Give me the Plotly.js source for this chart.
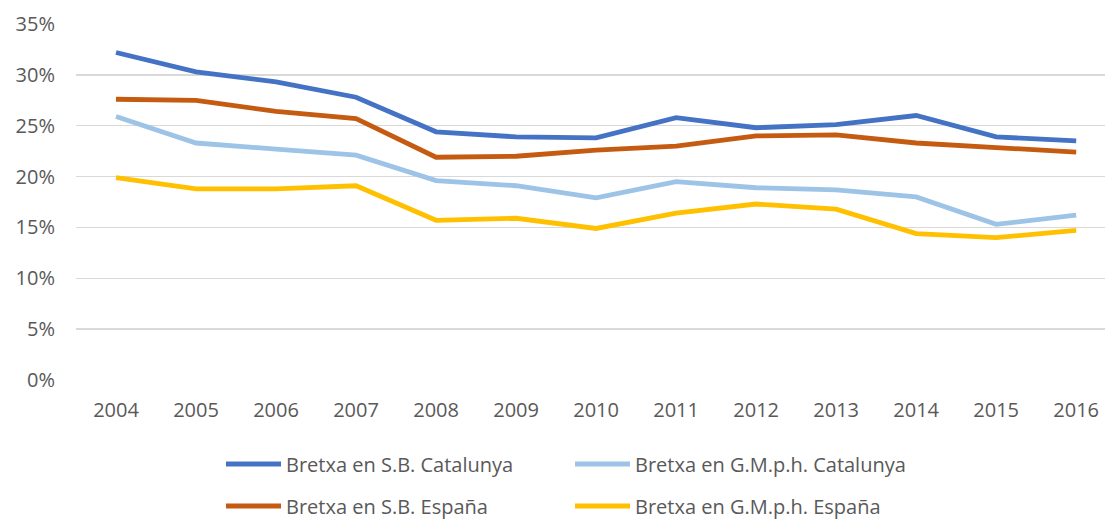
<!DOCTYPE html>
<html><head><meta charset="utf-8">
<script src="https://cdn.plot.ly/plotly-3.0.1.min.js"></script>
<style>html,body{margin:0;padding:0;background:#fff}#chart{width:1105px;height:520px}</style>
</head><body><div id="chart"></div>
<script>
const years = ["2004","2005","2006","2007","2008","2009","2010","2011","2012","2013","2014","2015","2016"];
const sbCatalunya = [0.322,0.303,0.293,0.278,0.244,0.239,0.238,0.258,0.248,0.251,0.260,0.239,0.235];
const gmphCatalunya = [0.259,0.233,0.227,0.221,0.196,0.191,0.179,0.195,0.189,0.187,0.180,0.153,0.162];
const sbEspana = [0.276,0.275,0.264,0.257,0.219,0.220,0.226,0.230,0.240,0.241,0.233,0.229,0.224];
const gmphEspana = [0.199,0.188,0.188,0.191,0.157,0.159,0.149,0.164,0.173,0.168,0.144,0.140,0.147];
const names = ["Bretxa en S.B. Catalunya","Bretxa en G.M.p.h. Catalunya","Bretxa en S.B. España","Bretxa en G.M.p.h. España"];
const colors = ["#4472C4","#9DC3E6","#C55A11","#FFC000"];
const series = [sbCatalunya, gmphCatalunya, sbEspana, gmphEspana];
const legendIds = ["legend","legend","legend2","legend2"];
const traces = series.map((s,i)=>({
  x: years, y: s, type:"scatter", mode:"lines", name:names[i],
  line:{color:colors[i], width:4.8, shape:"linear"},
  legend: legendIds[i], hoverinfo:"skip"
}));
const font = {family:"Open Sans, Noto Sans, sans-serif", size:20, color:"#595959"};
const legendCommon = {orientation:"h", xref:"container", yref:"container", xanchor:"left", yanchor:"middle",
  font:{family:"Open Sans, Noto Sans, sans-serif", size:20, color:"#595959"}, entrywidth:279, entrywidthmode:"pixels",
  itemwidth:55, bgcolor:"rgba(0,0,0,0)", borderwidth:0, tracegroupgap:0};
const layout = {
  width:1105, height:520,
  margin:{l:76, r:0, t:24, b:140},
  paper_bgcolor:"#fff", plot_bgcolor:"#fff",
  font: font,
  showlegend:true,
  xaxis:{type:"category", range:[-0.5, 12.36], showgrid:false, zeroline:false, showline:false,
    ticks:"", tickfont:font, ticklabelstandoff:16, fixedrange:true},
  yaxis:{range:[0,0.35], tickvals:[0,0.05,0.1,0.15,0.2,0.25,0.3,0.35], tickformat:".0%",
    showgrid:true, gridcolor:"#D9D9D9", gridwidth:1.3, zeroline:false, showline:false, ticks:"",
    tickfont:font, ticklabelstandoff:20, fixedrange:true},
  legend: Object.assign({}, legendCommon, {x:221/1105, y:1-464/520}),
  legend2: Object.assign({}, legendCommon, {x:221/1105, y:1-506/520})
};
Plotly.newPlot("chart", traces, layout, {staticPlot:true, displayModeBar:false});
</script></body></html>
